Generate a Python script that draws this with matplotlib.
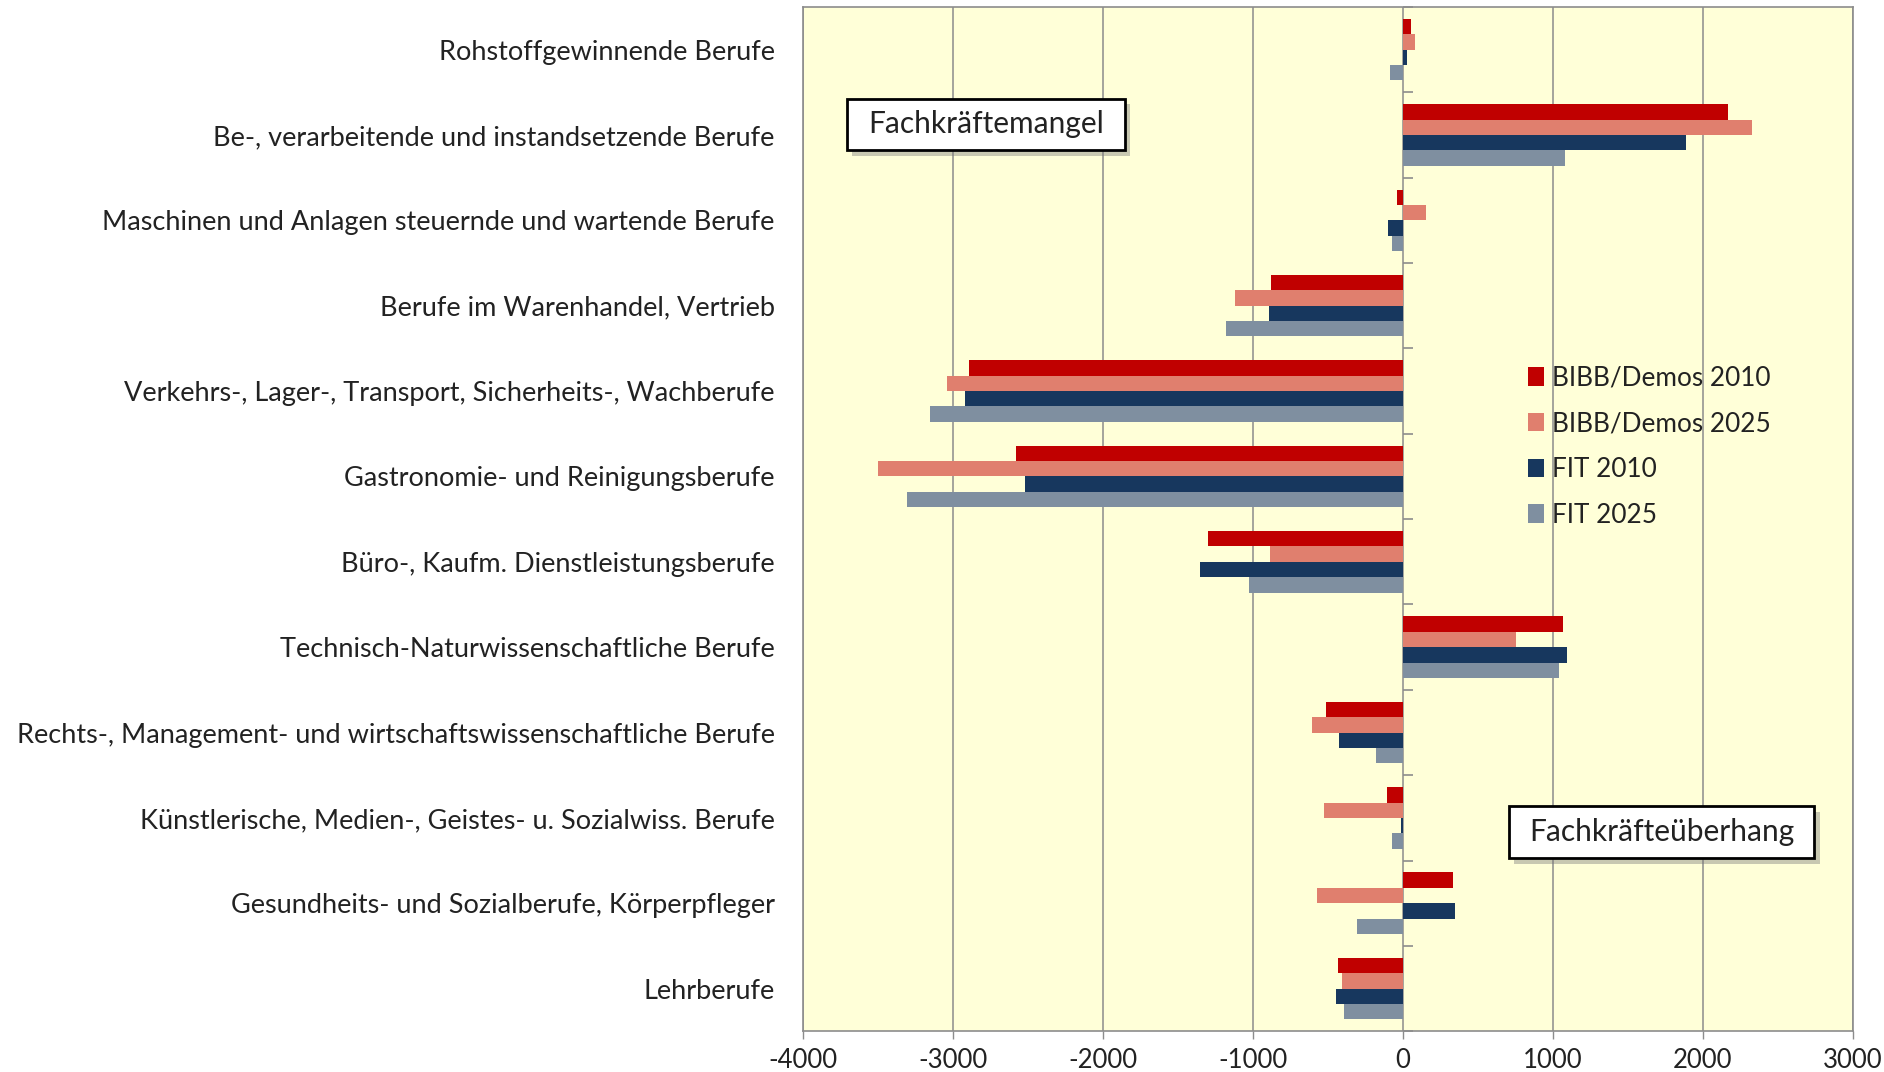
import numpy as np
import matplotlib.pyplot as plt
from matplotlib import patheffects as pe
from matplotlib.patches import Rectangle

plt.rcParams['font.family'] = ['Lato', 'DejaVu Sans']
plt.rcParams['axes.unicode_minus'] = False

# Berufsfelder (top to bottom)
berufe = [
    "Rohstoffgewinnende Berufe",
    "Be-, verarbeitende und instandsetzende Berufe",
    "Maschinen und Anlagen steuernde und wartende Berufe",
    "Berufe im Warenhandel, Vertrieb",
    "Verkehrs-, Lager-, Transport, Sicherheits-, Wachberufe",
    "Gastronomie- und Reinigungsberufe",
    "Büro-, Kaufm. Dienstleistungsberufe",
    "Technisch-Naturwissenschaftliche Berufe",
    "Rechts-, Management- und wirtschaftswissenschaftliche Berufe",
    "Künstlerische, Medien-, Geistes- u. Sozialwiss. Berufe",
    "Gesundheits- und Sozialberufe, Körperpfleger",
    "Lehrberufe",
]

bibb_2010 = [56, 2170, -37, -875, -2890, -2580, -1295, 1070, -514, -106, 338, -435]
bibb_2025 = [83, 2330, 157, -1115, -3035, -3500, -885, 755, -607, -528, -574, -407]
fit_2010 = [28, 1885, -97, -894, -2920, -2520, -1350, 1097, -426, -9, 347, -444]
fit_2025 = [-83, 1083, -69, -1176, -3150, -3305, -1028, 1042, -176, -69, -306, -389]

series = [
    ("BIBB/Demos 2010", bibb_2010, "#C00000"),
    ("BIBB/Demos 2025", bibb_2025, "#E07F6E"),
    ("FIT 2010", fit_2010, "#17375E"),
    ("FIT 2025", fit_2025, "#7F8FA0"),
]

fig = plt.figure(figsize=(18.84, 10.72), dpi=100)
ax = fig.add_axes([0.426, 0.038, 0.5575, 0.9555])
ax.set_facecolor("#FFFFD8")

y = np.arange(len(berufe))
h = 0.18
for k, (name, vals, col) in enumerate(series):
    ax.barh(y + (k - 1.5) * h, vals, height=h, color=col, label=name, zorder=2)

ax.set_xlim(-4000, 3000)
ax.set_ylim(len(berufe) - 0.5, -0.5)
ax.set_xticks(np.arange(-4000, 3001, 1000))
ax.xaxis.grid(True, color="#8C8C8C", lw=1.1, zorder=1)
ax.set_axisbelow(True)

ax.set_yticks(y)
ax.set_yticklabels(berufe, fontsize=19.5, color="#222222")
ax.tick_params(axis="y", length=0, pad=20)
ax.tick_params(axis="x", length=6, width=1, color="#8C8C8C", labelsize=18.5, pad=6, labelcolor="#222222")

for s in ax.spines.values():
    s.set_color("#8C8C8C")
    s.set_linewidth(1.2)

# small category ticks on the zero line
sec = ax.secondary_yaxis(4 / 7)
sec.set_yticks(np.arange(-0.5, len(berufe), 1.0))
sec.set_yticklabels([])
sec.tick_params(length=7, width=1.2, color="#8C8C8C", direction="out")
sec.spines["right"].set_visible(False)
sec.spines["left"].set_visible(False)

leg = ax.legend(loc="upper left", bbox_to_anchor=(0.681, 0.660), frameon=False,
                fontsize=18.8, handlelength=0.6, handleheight=0.7, handletextpad=0.3,
                labelspacing=0.79, borderaxespad=0)
for t in leg.get_texts():
    t.set_color("#222222")

shadow = [pe.SimplePatchShadow(offset=(4, -4), shadow_rgbFace="#777777", alpha=0.4), pe.Normal()]
boxes = [("Fachkräftemangel", 0.0419, 0.8604, 0.2648, 0.0502),
         ("Fachkräfteüberhang", 0.6724, 0.1689, 0.2905, 0.0508)]
for txt, x0, y0, w, hh in boxes:
    r = Rectangle((x0, y0), w, hh, transform=ax.transAxes, fc="white", ec="black", lw=2, zorder=5)
    r.set_path_effects(shadow)
    ax.add_patch(r)
    ax.text(x0 + w / 2, y0 + hh / 2, txt, transform=ax.transAxes, ha="center", va="center",
            fontsize=21.5, color="#222222", zorder=6)

fig.savefig("out.png", dpi=100, facecolor="white")
